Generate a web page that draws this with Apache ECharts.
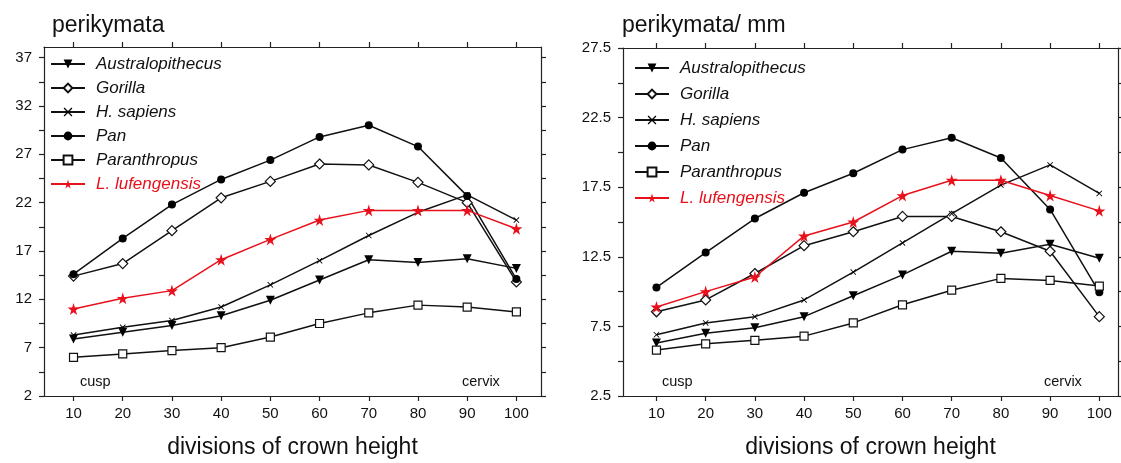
<!DOCTYPE html>
<html>
<head>
<meta charset="utf-8">
<script src="https://cdn.jsdelivr.net/npm/echarts@6/dist/echarts.min.js"></script>
<style>
html,body{margin:0;padding:0;background:#fff;}
#c{width:1121px;height:463px;}
</style>
</head>
<body>
<div id="c"></div>
<script>
// ---- data ----
const divisions = [10, 20, 30, 40, 50, 60, 70, 80, 90, 100];
const seriesNames = ['Australopithecus', 'Gorilla', 'H. sapiens', 'Pan', 'Paranthropus', 'L. lufengensis'];

// left panel: perikymata
const pkAustralopithecus = [7.9, 8.6, 9.3, 10.3, 11.9, 14.0, 16.1, 15.8, 16.2, 15.2];
const pkGorilla          = [14.4, 15.7, 19.1, 22.5, 24.2, 26.0, 25.9, 24.1, 22.0, 13.8];
const pkHsapiens         = [8.3, 9.1, 9.8, 11.2, 13.5, 16.0, 18.6, 21.0, 22.8, 20.2];
const pkPan              = [14.6, 18.3, 21.8, 24.4, 26.4, 28.8, 30.0, 27.8, 22.7, 14.1];
const pkParanthropus     = [6.0, 6.35, 6.7, 7.0, 8.1, 9.5, 10.6, 11.4, 11.2, 10.7];
const pkLufengensis      = [11.0, 12.1, 12.9, 16.1, 18.2, 20.2, 21.2, 21.2, 21.2, 19.3];

// right panel: perikymata / mm
const pmAustralopithecus = [6.3, 7.0, 7.4, 8.2, 9.7, 11.2, 12.9, 12.75, 13.4, 12.4];
const pmGorilla          = [8.55, 9.4, 11.3, 13.3, 14.3, 15.4, 15.4, 14.3, 12.9, 8.2];
const pmHsapiens         = [6.9, 7.75, 8.2, 9.4, 11.4, 13.5, 15.6, 17.65, 19.1, 17.05];
const pmPan              = [10.3, 12.8, 15.25, 17.1, 18.5, 20.2, 21.05, 19.6, 15.9, 9.95];
const pmParanthropus     = [5.8, 6.25, 6.5, 6.8, 7.75, 9.05, 10.1, 10.95, 10.8, 10.4];
const pmLufengensis      = [8.9, 10.0, 11.05, 14.0, 15.0, 16.9, 18.0, 18.0, 16.9, 15.8];

// tick labels
const xTickLabels = [10, 20, 30, 40, 50, 60, 70, 80, 90, 100];
const yTicksLeft  = [2, 7, 12, 17, 22, 27, 32, 37];
const yTicksRight = [2.5, 7.5, 12.5, 17.5, 22.5, 27.5];

// ---- styles ----
const FONT = 'Liberation Sans, Arial, sans-serif';
const AX = '#222';
const symbols = {
  'Australopithecus': {symbol: 'path://M0,0 L10,0 L5,9 Z', size: 9, fill: '#000'},
  'Gorilla': {symbol: 'diamond', size: 10, fill: '#fff'},
  'H. sapiens': {symbol: 'path://M0,1 L1,0 L5,4 L9,0 L10,1 L6,5 L10,9 L9,10 L5,6 L1,10 L0,9 L4,5 Z', size: 6, fill: '#000'},
  'Pan': {symbol: 'circle', size: 8, fill: '#000'},
  'Paranthropus': {symbol: 'rect', size: 8, fill: '#fff'},
  'L. lufengensis': {symbol: 'path://M50,0 L61,35 L98,35 L68,57 L79,91 L50,70 L21,91 L32,57 L2,35 L39,35 Z', size: 12, fill: '#e8101a'}
};

function mkSeries(name, vals, gi) {
  const s = symbols[name];
  const red = name === 'L. lufengensis';
  const col = red ? '#e8101a' : '#111';
  return {
    type: 'line', name: name,
    xAxisIndex: gi * 2, yAxisIndex: gi * 2,
    data: divisions.map((d, i) => [d, vals[i]]),
    symbol: s.symbol, symbolSize: s.size, showAllSymbol: true,
    lineStyle: {color: col, width: 1.5},
    itemStyle: {color: s.fill, borderColor: col, borderWidth: (s.fill === '#fff') ? 1.2 : 0},
    emphasis: {disabled: true},
    animation: false, z: red ? 3 : 2
  };
}

function halfSteps(arr) {
  const out = [];
  for (let i = 0; i < arr.length; i++) {
    out.push(arr[i]);
    if (i < arr.length - 1) out.push((arr[i] + arr[i + 1]) / 2);
  }
  return out;
}

function xAxes(gi, min, max) {
  return [
    {gridIndex: gi, type: 'value', position: 'bottom', min: min, max: max,
     axisLine: {show: true, lineStyle: {color: AX, width: 1.2}},
     axisTick: {show: true, length: 5, inside: false, customValues: xTickLabels, lineStyle: {color: AX, width: 1.2}},
     axisLabel: {customValues: xTickLabels, fontSize: 15, color: '#111', fontFamily: FONT, margin: 10},
     splitLine: {show: false},
     name: 'divisions of crown height', nameLocation: 'middle', nameGap: 40,
     nameTextStyle: {fontSize: 23, color: '#111', fontFamily: FONT}},
    {gridIndex: gi, type: 'value', position: 'top', min: min, max: max,
     axisLine: {show: true, lineStyle: {color: AX, width: 1.2}},
     axisTick: {show: true, length: 5, customValues: xTickLabels, lineStyle: {color: AX, width: 1.2}},
     axisLabel: {show: false}, splitLine: {show: false}}
  ];
}
function yAxes(gi, ticks, max) {
  const min = ticks[0];
  return [
    {gridIndex: gi, type: 'value', position: 'left', min: min, max: max,
     axisLine: {show: true, lineStyle: {color: AX, width: 1.2}},
     axisTick: {show: true, length: 5, customValues: halfSteps(ticks), lineStyle: {color: AX, width: 1.2}},
     axisLabel: {customValues: ticks, fontSize: 15, color: '#111', fontFamily: FONT, margin: 12,
                 formatter: v => (ticks.indexOf(v) >= 0 ? String(v) : '')},
     splitLine: {show: false}},
    {gridIndex: gi, type: 'value', position: 'right', min: min, max: max,
     axisLine: {show: true, lineStyle: {color: AX, width: 1.2}},
     axisTick: {show: true, length: 5, customValues: halfSteps(ticks), lineStyle: {color: AX, width: 1.2}},
     axisLabel: {show: false}, splitLine: {show: false}}
  ];
}

function mkLegend(left, top, gap) {
  return {
    left: left, top: top, orient: 'vertical', itemGap: gap, itemWidth: 34, itemHeight: 11,
    padding: 0, selectedMode: false,
    textStyle: {fontSize: 17, fontStyle: 'italic', fontFamily: FONT, color: '#111', padding: [0, 0, 0, 6]},
    data: seriesNames.map(n => ({name: n, textStyle: n === 'L. lufengensis' ? {color: '#e8101a'} : {}}))
  };
}

const chart = echarts.init(document.getElementById('c'), null, {renderer: 'canvas'});
chart.setOption({
  animation: false,
  backgroundColor: '#fff',
  title: [
    {text: 'perikymata', left: 47, top: 9, textStyle: {fontSize: 23, fontWeight: 'normal', color: '#111', fontFamily: FONT}},
    {text: 'perikymata/ mm', left: 617, top: 9, textStyle: {fontSize: 23, fontWeight: 'normal', color: '#111', fontFamily: FONT}}
  ],
  grid: [
    {left: 44, top: 47, width: 497, height: 349, containLabel: false, outerBoundsMode: 'none'},
    {left: 623, top: 48, width: 495, height: 348, containLabel: false, outerBoundsMode: 'none'}
  ],
  legend: [mkLegend(50, 55.5, 7), mkLegend(634, 59.5, 9)],
  xAxis: [...xAxes(0, 4, 105), ...xAxes(1, 3.2, 103.8)],
  yAxis: [...yAxes(0, yTicksLeft, 38.1), ...yAxes(1, yTicksRight, 27.5)],
  graphic: [
    {type: 'text', left: 80, top: 374, style: {text: 'cusp', fontSize: 14.5, fill: '#111', fontFamily: FONT}},
    {type: 'text', left: 462, top: 374, style: {text: 'cervix', fontSize: 14.5, fill: '#111', fontFamily: FONT}},
    {type: 'text', left: 662, top: 374, style: {text: 'cusp', fontSize: 14.5, fill: '#111', fontFamily: FONT}},
    {type: 'text', left: 1044, top: 374, style: {text: 'cervix', fontSize: 14.5, fill: '#111', fontFamily: FONT}}
  ],
  series: [
    mkSeries('Australopithecus', pkAustralopithecus, 0),
    mkSeries('Gorilla', pkGorilla, 0),
    mkSeries('H. sapiens', pkHsapiens, 0),
    mkSeries('Pan', pkPan, 0),
    mkSeries('Paranthropus', pkParanthropus, 0),
    mkSeries('L. lufengensis', pkLufengensis, 0),
    mkSeries('Australopithecus', pmAustralopithecus, 1),
    mkSeries('Gorilla', pmGorilla, 1),
    mkSeries('H. sapiens', pmHsapiens, 1),
    mkSeries('Pan', pmPan, 1),
    mkSeries('Paranthropus', pmParanthropus, 1),
    mkSeries('L. lufengensis', pmLufengensis, 1)
  ]
});
</script>
</body>
</html>
